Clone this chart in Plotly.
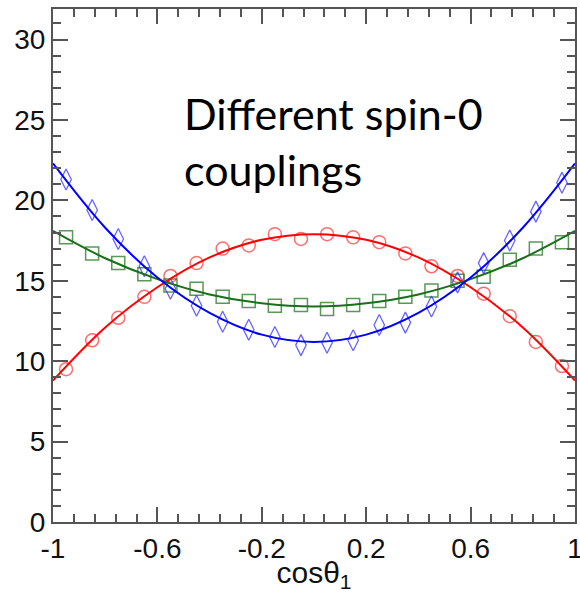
import plotly.graph_objects as go

# bin centres
x_bins = [-0.95, -0.85, -0.75, -0.65, -0.55, -0.45, -0.35, -0.25, -0.15, -0.05,
          0.05, 0.15, 0.25, 0.35, 0.45, 0.55, 0.65, 0.75, 0.85, 0.95]

red_pts = [9.5, 11.3, 12.7, 14.0, 15.3, 16.1, 17.0, 17.2, 17.9, 17.6,
           17.9, 17.7, 17.4, 16.7, 15.9, 15.3, 14.2, 12.8, 11.2, 9.7]
green_pts = [17.7, 16.7, 16.1, 15.4, 14.7, 14.5, 14.0, 13.75, 13.45, 13.5,
             13.25, 13.5, 13.75, 14.0, 14.4, 15.0, 15.25, 16.3, 17.0, 17.4]
blue_pts = [21.3, 19.4, 17.6, 15.9, 14.5, 13.45, 12.45, 11.95, 11.5, 11.0,
            11.15, 11.3, 12.25, 12.4, 13.4, 14.9, 16.1, 17.5, 19.3, 21.1]

# fit curves read at these x positions
x_fit = [-1.0, -0.8, -0.6, -0.4, -0.2, 0.0, 0.2, 0.4, 0.6, 0.8, 1.0]
red_fit = [8.8, 12.1, 14.6, 16.45, 17.55, 17.9, 17.55, 16.45, 14.6, 12.1, 8.8]
green_fit = [18.1, 16.4, 15.1, 14.15, 13.6, 13.4, 13.6, 14.15, 15.1, 16.4, 18.1]
blue_fit = [22.3, 18.3, 15.2, 13.0, 11.65, 11.2, 11.65, 13.0, 15.2, 18.3, 22.3]

x_tickvals = [-1, -0.6, -0.2, 0.2, 0.6, 1]
x_ticktext = ["-1", "-0.6", "-0.2", "0.2", "0.6", "1"]
y_tickvals = [0, 5, 10, 15, 20, 25, 30]

fig = go.Figure()

fig.add_trace(go.Scatter(x=x_bins, y=red_pts, mode="markers",
                         marker=dict(symbol="circle-open", size=13,
                                     color="rgba(255,60,60,0.75)",
                                     line=dict(width=1.5))))
fig.add_trace(go.Scatter(x=x_bins, y=green_pts, mode="markers",
                         marker=dict(symbol="square-open", size=13,
                                     color="rgba(30,120,30,0.75)",
                                     line=dict(width=1.5))))
fig.add_trace(go.Scatter(x=x_bins, y=blue_pts, mode="markers",
                         marker=dict(symbol="diamond-tall-open", size=15,
                                     color="rgba(50,50,255,0.75)",
                                     line=dict(width=1.3))))

fig.add_trace(go.Scatter(x=x_fit, y=red_fit, mode="lines", line_shape="spline",
                         line=dict(color="#ff0000", width=2)))
fig.add_trace(go.Scatter(x=x_fit, y=green_fit, mode="lines", line_shape="spline",
                         line=dict(color="#1a701a", width=2)))
fig.add_trace(go.Scatter(x=x_fit, y=blue_fit, mode="lines", line_shape="spline",
                         line=dict(color="#0000ff", width=2)))

axis_col = "#555555"
fig.update_xaxes(range=[-1, 1], tickvals=x_tickvals, ticktext=x_ticktext,
                 ticks="inside", ticklen=15, tickwidth=1.5, tickcolor=axis_col,
                 showline=True, linecolor=axis_col, linewidth=2, mirror="allticks",
                 showgrid=False, zeroline=False, ticklabeloverflow="allow",
                 automargin=False,
                 tickfont=dict(family="Liberation Sans, Arial", size=28, color="#111"),
                 minor=dict(ticks="inside", ticklen=8, tickwidth=1.5, tickcolor=axis_col,
                            tick0=-1, dtick=0.08, showgrid=False),
                 title=dict(text="cosθ<sub>1</sub>", standoff=2,
                            font=dict(family="Liberation Sans, Arial", size=30, color="#111")))
fig.update_yaxes(range=[0, 31.9], tickvals=y_tickvals,
                 ticks="inside", ticklen=15, tickwidth=1.5, tickcolor=axis_col,
                 showline=True, linecolor=axis_col, linewidth=2, mirror="allticks",
                 showgrid=False, zeroline=False, automargin=False,
                 tickfont=dict(family="Liberation Sans, Arial", size=28, color="#111"),
                 minor=dict(ticks="inside", ticklen=8, tickwidth=1.5, tickcolor=axis_col,
                            tick0=0, dtick=1, showgrid=False))

fig.add_annotation(xref="paper", yref="paper", x=0.247, y=0.742,
                   xanchor="left", yanchor="middle", align="left", showarrow=False,
                   text="Different spin-0<br>couplings",
                   font=dict(family="Lato", size=43, color="#000"))

fig.update_layout(width=580, height=593, showlegend=False,
                  margin=dict(l=53, r=5, t=9, b=71),
                  plot_bgcolor="white", paper_bgcolor="white")

fig.write_html("out.html")
